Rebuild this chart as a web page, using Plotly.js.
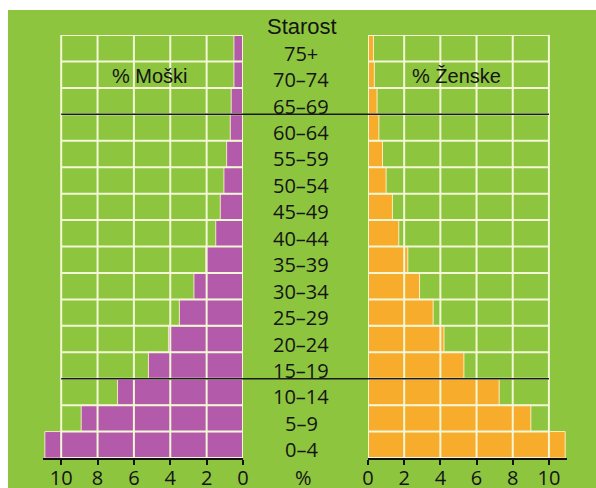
<!DOCTYPE html>
<html>
<head>
<meta charset="utf-8">
<script src="https://cdn.plot.ly/plotly-3.0.1.min.js"></script>
<style>html,body{margin:0;padding:0;background:#fff;}#chart{width:596px;height:488px;}</style>
</head>
<body>
<div id="chart"></div>
<script>
// Age groups, bottom to top
const ages = ["0–4","5–9","10–14","15–19","20–24","25–29","30–34","35–39","40–44","45–49","50–54","55–59","60–64","65–69","70–74","75+"];
const male = [10.9, 8.9, 6.9, 5.2, 4.1, 3.5, 2.7, 2.05, 1.5, 1.25, 1.05, 0.9, 0.7, 0.65, 0.5, 0.5];
const female = [10.9, 9.0, 7.25, 5.3, 4.2, 3.6, 2.85, 2.2, 1.7, 1.35, 1.0, 0.8, 0.6, 0.5, 0.35, 0.3];
const tickVals = [0, 2, 4, 6, 8, 10];
const tickText = ["0", "2", "4", "6", "8", "10"];
const titleMale = "% Moški";
const titleFemale = "% Ženske";
const titleAge = "Starost";
const unitLabel = "%";

const W = 596, H = 488;
const mTop = 35, mBot = 30;
const plotH = H - mTop - mBot;
const domM = [43 / W, 243 / W];
const domF = [368 / W, 567 / W];
const domC = [250 / W, 352 / W];
const xMax = 11;
const green = "#8dc53f";
const gridCol = "#f3f7d6";
const txt = "#141414";
const labelFont = "'Open Sans', 'DejaVu Sans', sans-serif";
const titleFont = "'Liberation Sans', Arial, sans-serif";

const traces = [
  {type: "bar", orientation: "h", x: male, y: ages, xaxis: "x", yaxis: "y",
   marker: {color: "#b35aab", line: {color: "#f2e6c8", width: 1}}, hoverinfo: "x+y"},
  {type: "bar", orientation: "h", x: female, y: ages, xaxis: "x2", yaxis: "y",
   marker: {color: "#f7ac2c", line: {color: "#fbefc0", width: 1}}, hoverinfo: "x+y"}
];

// grid shapes (above bars, as in the original)
const shapes = [];
shapes.push({type: "rect", xref: "paper", yref: "paper", layer: "below",
  x0: 8 / W, x1: 1.01, y0: -(mBot + 2) / plotH, y1: (H - mBot - 10) / plotH,
  fillcolor: green, line: {width: 0}});
function addGrid(xref) {
  tickVals.forEach(v => shapes.push({type: "line", xref: xref, yref: "y", layer: "above",
    x0: v, x1: v, y0: -0.5, y1: ages.length - 0.5, line: {color: gridCol, width: 2}}));
  for (let i = 0; i <= ages.length; i++) {
    shapes.push({type: "line", xref: xref, yref: "y", layer: "above",
      x0: 0, x1: 10, y0: i - 0.5, y1: i - 0.5, line: {color: gridCol, width: 2}});
  }
}
addGrid("x");
addGrid("x2");
// black separator lines spanning both panels
const xm10 = domM[1] - (10 / xMax) * (domM[1] - domM[0]);
const xf10 = domF[0] + (10 / xMax) * (domF[1] - domF[0]);
[12.5, 2.5].forEach(yb => shapes.push({type: "line", xref: "paper", yref: "paper", layer: "above",
  x0: xm10, x1: xf10, y0: (yb + 0.5) / ages.length, y1: (yb + 0.5) / ages.length,
  line: {color: "#1a1a1a", width: 1.5}}));

const axisCommon = {
  tickmode: "array", tickvals: tickVals, ticktext: tickText,
  showgrid: false, zeroline: false, showline: true, linecolor: "#111", linewidth: 2,
  ticks: "outside", ticklen: 5, tickwidth: 2, tickcolor: "#111", ticklabelstandoff: -4,
  tickfont: {family: labelFont, size: 20, color: txt}, fixedrange: true
};

const annotations = [
  {text: titleAge, xref: "paper", yref: "paper", x: 302 / W, y: (H - mBot - 27) / plotH,
   showarrow: false, xanchor: "center", yanchor: "middle",
   font: {family: titleFont, size: 22, color: txt}},
  {text: titleMale, xref: "x", yref: "y", x: 5.1, y: "70–74", showarrow: false, yshift: -1,
   xanchor: "center", yanchor: "middle", font: {family: titleFont, size: 20, color: txt}},
  {text: titleFemale, xref: "x2", yref: "y", x: 4.9, y: "70–74", showarrow: false, yshift: -1,
   xanchor: "center", yanchor: "middle", font: {family: titleFont, size: 20, color: txt}},
  {text: unitLabel, xref: "paper", yref: "paper", x: 303 / W, y: -(477 - (H - mBot)) / plotH,
   showarrow: false, xanchor: "center", yanchor: "middle",
   font: {family: labelFont, size: 20, color: txt}}
];
// age-group labels in the middle column, placed on the shared category axis
ages.forEach(a => annotations.push({text: a, xref: "x3", yref: "y", x: 0.5, y: a,
  showarrow: false, xanchor: "center", yanchor: "middle", yshift: -5,
  font: {family: labelFont, size: 20, color: txt}}));

const layout = {
  width: W, height: H,
  margin: {l: 0, r: 0, t: mTop, b: mBot, pad: 0},
  paper_bgcolor: "#ffffff", plot_bgcolor: "rgba(0,0,0,0)",
  showlegend: false, bargap: 0,
  xaxis: Object.assign({}, axisCommon, {domain: domM, range: [xMax, 0], anchor: "y"}),
  xaxis2: Object.assign({}, axisCommon, {domain: domF, range: [0, xMax], anchor: "y"}),
  xaxis3: {domain: domC, range: [0, 1], visible: false, anchor: "y", fixedrange: true},
  yaxis: {type: "category", categoryorder: "array", categoryarray: ages,
    range: [-0.5, ages.length - 0.5], visible: false, fixedrange: true, anchor: "x"},
  shapes: shapes,
  annotations: annotations
};

Plotly.newPlot("chart", traces, layout, {displayModeBar: false, staticPlot: true});
</script>
</body>
</html>
